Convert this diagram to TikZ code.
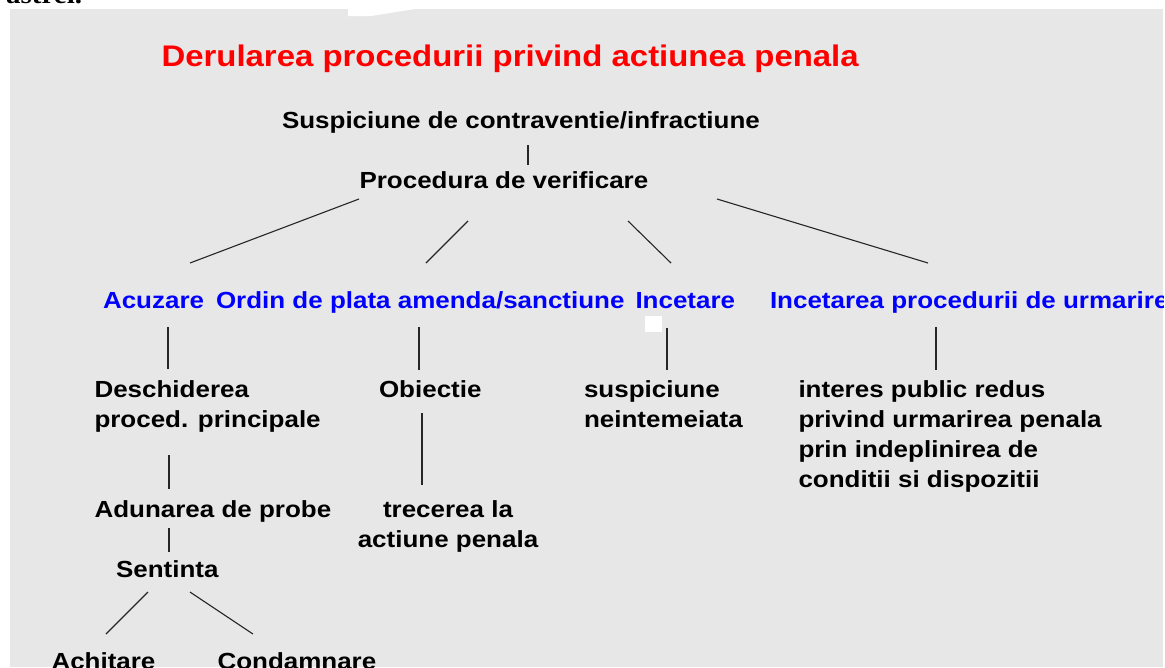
\documentclass[tikz,border=0pt]{standalone}
\usepackage{fontspec}
\usepackage{graphicx}
\setmainfont{Liberation Sans}
\newfontfamily\serifx{Liberation Serif}
\definecolor{bggray}{RGB}{231,231,231}
\definecolor{ttlred}{RGB}{255,0,0}
\definecolor{hdblue}{RGB}{0,0,255}
\newcommand{\hx}[1]{\scalebox{1.115}[1]{#1}}
\newcommand{\hxt}[1]{\scalebox{1.105}[1]{#1}}
\newcommand{\lab}{\fontsize{23.3}{30}\selectfont\bfseries}
\newcommand{\ttl}{\fontsize{29.8}{36}\selectfont\bfseries}
\tikzset{
  txt/.style={anchor=base west, inner sep=0pt, outer sep=0pt, font=\lab, text=black},
  hdr/.style={txt, text=hdblue},
  conn/.style={draw=black!85, line width=1.1pt},
}
\begin{document}
\begin{tikzpicture}[x=1pt,y=-1pt]
\useasboundingbox (0,0) rectangle (1165,667);
% cropped text above the slide
\begin{scope}
\clip (0,0) rectangle (1165,9);
\node[anchor=base west, inner sep=0pt, font=\serifx\fontsize{26}{30}\selectfont\bfseries] (astrei) at (6,3) {\hx{astrei.}};
\end{scope}
\begin{scope}
\clip (10,9) rectangle (1163,667);
\fill[bggray] (10,9) rectangle (1163,667);
\fill[white] (348,9) -- (348,16) -- (371,16) -- (415,9) -- cycle;
% title
\node[txt, font=\ttl, text=ttlred] (title) at (161.5,66) {\hxt{Derularea procedurii privind actiunea penala}};
% top
\node[txt] (susp) at (282,128) {\hx{Suspiciune de contraventie/infractiune}};
\node[txt] (proc) at (359.5,188) {\hx{Procedura de verificare}};
% blue row
\node[hdr] (acuz) at (103,308) {\hx{Acuzare}};
\node[hdr] (ordin) at (216,308) {\hx{Ordin de plata amenda/sanctiune}};
\node[hdr] (incet) at (635.5,308) {\hx{Incetare}};
\node[hdr] (incetp) at (770,308) {\hx{Incetarea procedurii de urmarire}};
\fill[white] (645,316) rectangle (662,332);
% third level
\node[txt] (desch) at (94.5,397) {\hx{\begin{tabular}[t]{@{}l@{}}Deschiderea\\proced. principale\end{tabular}}};
\node[txt] (obiec) at (379,397) {\hx{Obiectie}};
\node[txt] (suspn) at (584,397) {\hx{\begin{tabular}[t]{@{}l@{}}suspiciune\\neintemeiata\end{tabular}}};
\node[txt] (inter) at (798.5,397) {\hx{\begin{tabular}[t]{@{}l@{}}interes public redus\\privind urmarirea penala\\prin indeplinirea de\\conditii si dispozitii\end{tabular}}};
% fourth level
\node[txt] (adun) at (94.5,517) {\hx{Adunarea de probe}};
\node[txt, anchor=base] (trec) at (448,517) {\hx{\begin{tabular}[t]{@{}c@{}}trecerea la\\actiune penala\end{tabular}}};
\node[txt] (sent) at (116,577) {\hx{Sentinta}};
\node[txt] (achit) at (51.5,669) {\hx{Achitare}};
\node[txt] (condam) at (217.5,669) {\hx{Condamnare}};
% connector end points
\coordinate (sp1) at (528,145); \coordinate (sp2) at (528,165);
\coordinate (pa1) at (359,199); \coordinate (pa2) at (190,263);
\coordinate (po1) at (468,221); \coordinate (po2) at (426,263);
\coordinate (pi1) at (628,221); \coordinate (pi2) at (671,263);
\coordinate (pu1) at (717,199); \coordinate (pu2) at (928,263);
\coordinate (ad1) at (168,327); \coordinate (ad2) at (168,369);
\coordinate (ob1) at (419,327); \coordinate (ob2) at (419,370);
\coordinate (is1) at (667,328); \coordinate (is2) at (667,370);
\coordinate (ip1) at (936,327); \coordinate (ip2) at (936,370);
\coordinate (da1) at (169,455); \coordinate (da2) at (169,489);
\coordinate (ot1) at (422,413); \coordinate (ot2) at (422,485);
\coordinate (as1) at (169,528); \coordinate (as2) at (169,552);
\coordinate (sa1) at (148,592); \coordinate (sa2) at (106,634);
\coordinate (sc1) at (190,592); \coordinate (sc2) at (253,634);
\draw[conn] (sp1) -- (sp2);
\draw[conn] (pa1) -- (pa2);
\draw[conn] (po1) -- (po2);
\draw[conn] (pi1) -- (pi2);
\draw[conn] (pu1) -- (pu2);
\draw[conn] (ad1) -- (ad2);
\draw[conn] (ob1) -- (ob2);
\draw[conn] (is1) -- (is2);
\draw[conn] (ip1) -- (ip2);
\draw[conn] (da1) -- (da2);
\draw[conn] (ot1) -- (ot2);
\draw[conn] (as1) -- (as2);
\draw[conn] (sa1) -- (sa2);
\draw[conn] (sc1) -- (sc2);
\end{scope}
\end{tikzpicture}
\end{document}
